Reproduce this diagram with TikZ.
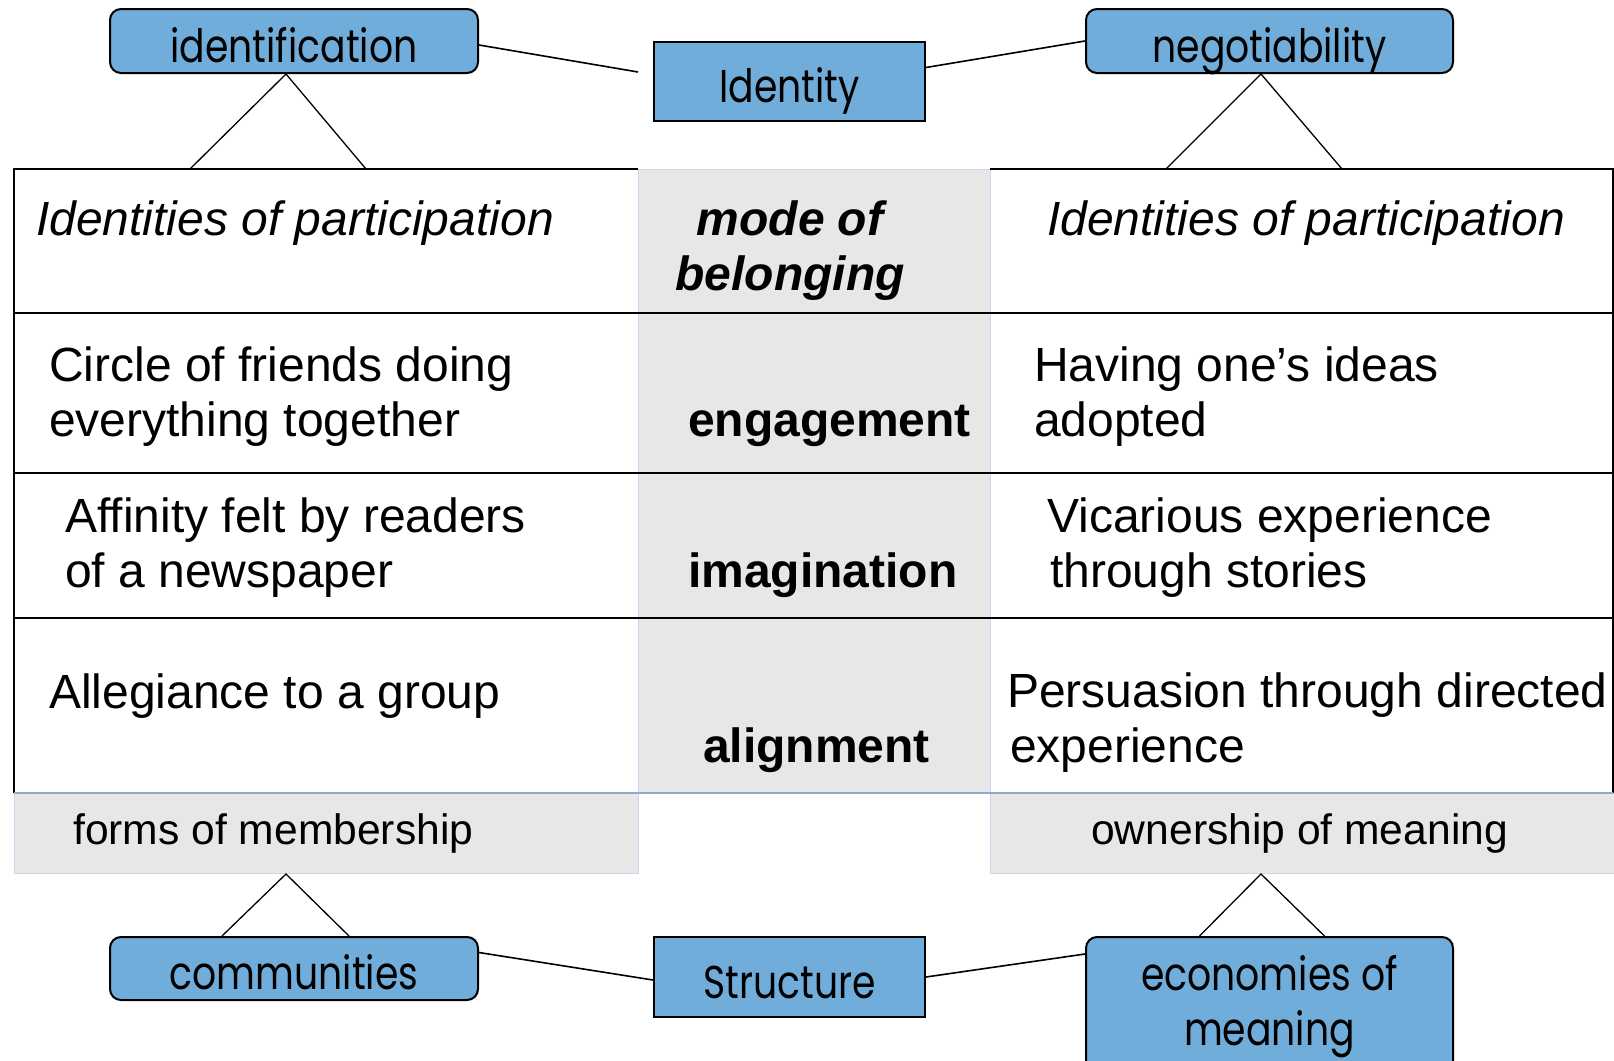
\documentclass[tikz,border=0pt]{standalone}
\usepackage{fontspec}
\setmainfont{Liberation Sans}
\newfontfamily\gothic[FakeStretch=0.82]{Poppins}
\usetikzlibrary{calc}
\definecolor{boxblue}{RGB}{112,173,218}
\definecolor{cellgray}{RGB}{231,231,231}
\definecolor{paleblue}{RGB}{198,217,241}
\definecolor{rowline}{RGB}{142,169,204}
\begin{document}
\begin{tikzpicture}[x=1pt,y=-1pt,
  boxbase/.style={draw=black,line width=2pt,fill=boxblue,inner sep=0pt,align=center,
    font=\gothic\fontsize{46}{57}\selectfont},
  box/.style={boxbase,text height=52pt,text depth=10pt},
  rbox/.style={box,rounded corners=11pt},
  celltext/.style={anchor=base west,inner sep=0pt,align=left,font=\fontsize{48}{55}\selectfont},
  boldtext/.style={celltext,font=\bfseries\fontsize{48}{55}\selectfont},
  graycell/.style={draw=paleblue,line width=1pt,fill=cellgray,inner sep=0pt,anchor=north west},
  link/.style={line width=1.6pt},
  tri/.style={line width=1.3pt},
  rule/.style={line width=2pt},
]
\clip (0,0) rectangle (1614,1060);
\fill[white] (0,0) rectangle (1614,1060);

% ---- table backgrounds ----
\node[graycell,minimum width=352pt,minimum height=624pt] (midcol) at (638,169) {};
\node[graycell,minimum width=624pt,minimum height=80pt] (formscell) at (14,793) {};
\node[graycell,minimum width=624pt,minimum height=80pt] (ownercell) at (990,793) {};

% ---- table rules ----
\draw[rule] (14,169) -- (638,169);
\draw[rule] (990,169) -- (1613,169);
\draw[rule] (14,313) -- (1613,313);
\draw[rule] (14,473) -- (1613,473);
\draw[rule] (14,618) -- (1613,618);
\draw[rule] (14,168) -- (14,793);
\draw[rule] (1612.5,168) -- (1612.5,793);
\draw[rowline,line width=1.2pt] (14,793) -- (1613,793);

% ---- table texts (base anchor = baseline of the last line) ----
\node[celltext,font=\itshape\fontsize{48}{55}\selectfont] (hl) at (36,235) {Identities of participation};
\node[boldtext,font=\bfseries\itshape\fontsize{48}{55}\selectfont,anchor=base,align=center] (hm) at (790,290) {mode of\\belonging};
\node[celltext,font=\itshape\fontsize{48}{55}\selectfont] (hr) at (1047,235) {Identities of participation};

\node[celltext] (r1l) at (49,436) {Circle of friends doing\\everything together};
\node[boldtext] (r1m) at (688,436) {engagement};
\node[celltext] (r1r) at (1034,436) {Having one’s ideas\\adopted};

\node[celltext] (r2l) at (65,587) {Affinity felt by readers\\of a newspaper};
\node[boldtext] (r2m) at (688,587) {imagination};
\node[celltext] (r2r) at (1047,587) {Vicarious experience\\\kern3pt through stories};

\node[celltext] (r3l) at (49,708) {Allegiance to a group};
\node[boldtext] (r3m) at (703,762) {alignment};
\node[celltext] (r3r) at (1007,762) {Persuasion through directed\\\kern3pt experience};

\node[celltext,font=\fontsize{42.6}{50}\selectfont] (formstext) at (73,844) {forms of membership};
\node[celltext,font=\fontsize{42.6}{50}\selectfont] (ownertext) at (1091,844) {ownership of meaning};

% ---- blue boxes ----
\node[rbox,minimum width=368pt,minimum height=64pt] (identification) at (294,41) {identification};
\node[box,minimum width=271pt,minimum height=79pt] (Identity) at (789.5,81.5) {Identity};
\node[rbox,minimum width=367pt,minimum height=64pt] (negotiability) at (1269.5,41) {negotiability};

\node[rbox,minimum width=368pt,minimum height=63pt] (communities) at (294,968.5) {communities};
\node[box,minimum width=271pt,minimum height=80pt] (Structure) at (789.5,977) {Structure};
\node[boxbase,rounded corners=11pt,minimum width=367pt,minimum height=140pt,
  font=\gothic\fontsize{46}{55}\selectfont] (economies) at (1269.5,1007) {economies of\\meaning};

% ---- connectors ----
\coordinate (idgap) at (638,72);
\draw[link] ($(identification.east)+(0,4)$) -- (idgap);
\draw[link] ($(Identity.east)+(0,-14)$) -- (negotiability.west);
\draw[link] ($(communities.east)+(0,-16)$) -- ($(Structure.west)+(0,3)$);
\draw[link] (Structure.east) -- ($(economies.north west)+(0,18)$);

% ---- triangles ----
\draw[tri] (190,169) -- ($(identification.south)+(-8,0)$) -- (366,169);
\draw[tri] (1166,169) -- ($(negotiability.south)+(-8.5,0)$) -- (1342,169);
\draw[tri] ($(communities.north)+(-72,0)$) -- ($(formscell.south west)+(272,0)$) -- ($(communities.north)+(55,0)$);
\draw[tri] ($(economies.north)+(-70,0)$) -- ($(ownercell.south west)+(271,0)$) -- ($(economies.north)+(55,0)$);
\end{tikzpicture}
\end{document}
